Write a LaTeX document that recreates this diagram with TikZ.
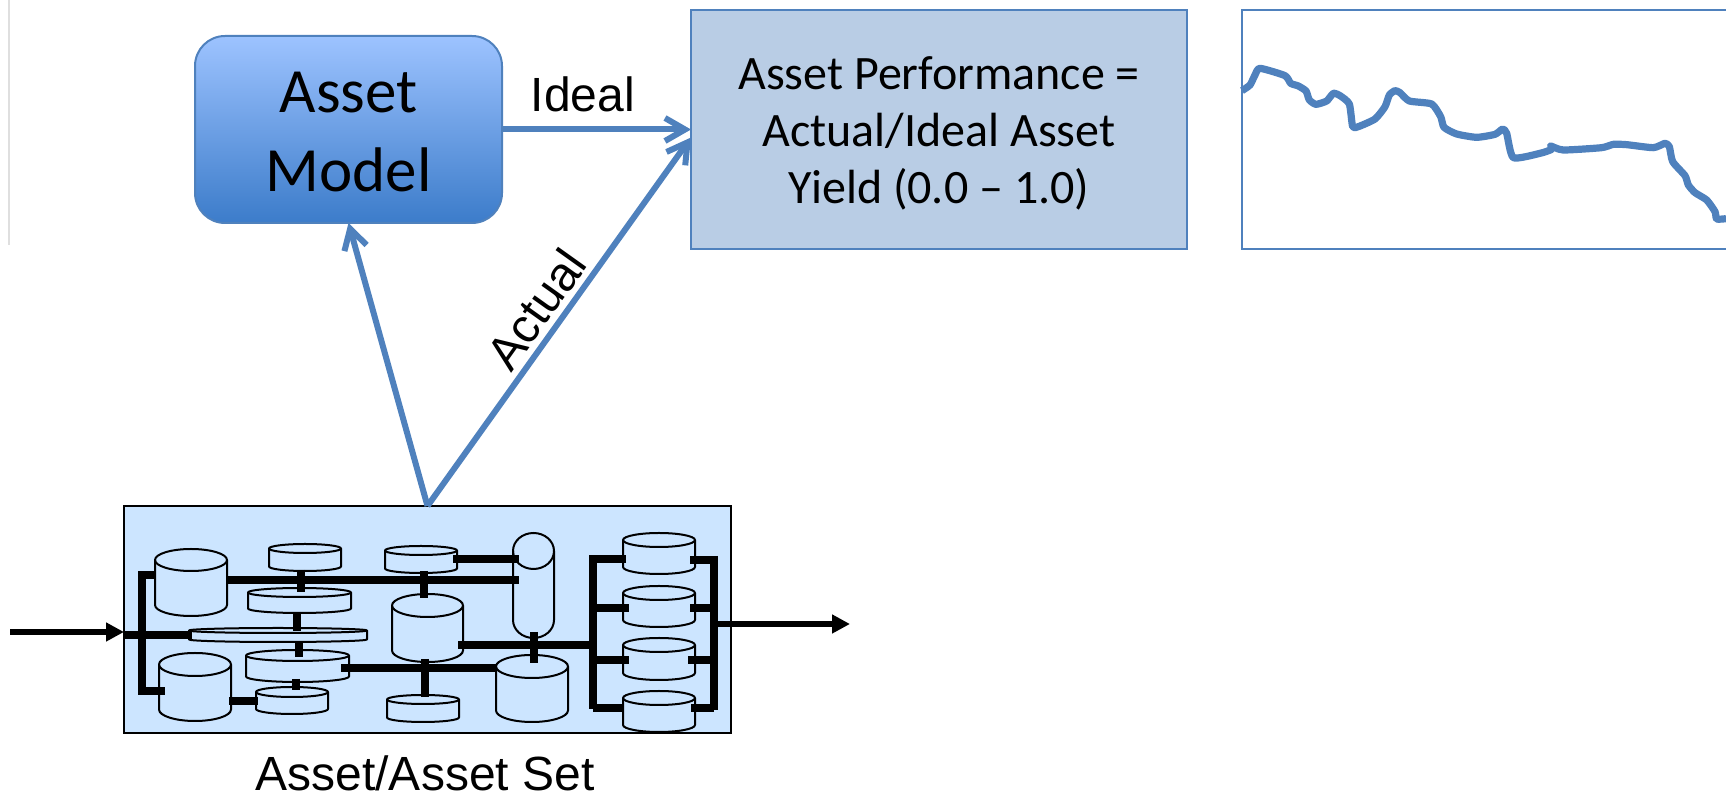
\documentclass[tikz,border=0pt]{standalone}
\usepackage{fontspec}
\setmainfont{Carlito}
\newfontfamily\arialf{Liberation Sans}
\usetikzlibrary{arrows.meta,calc}
\definecolor{linkblue}{HTML}{4F81BD}
\definecolor{perfblue}{HTML}{B9CDE5}
\definecolor{assetblue}{HTML}{CCE5FF}
\definecolor{modeltop}{HTML}{9DC3FF}
\definecolor{modelbot}{HTML}{3C7CCA}
\tikzset{
  linkarrow/.style={draw=linkblue,line width=3pt,-{Straight Barb[length=10pt,width=11.5pt,line width=3pt]}},
  flowarrow/.style={draw=black,line width=3pt,-{Triangle[length=9pt,width=9pt]}},
  pipe/.style={draw=black,line width=4pt},
  vessel/.style={draw=black,line width=1pt,fill=assetblue,line join=round},
  lbl/.style={font=\arialf\fontsize{24}{28}\selectfont,inner sep=0pt},
}
% x1, top of ellipse, x2, bottom of ellipse, bottom of body
\newcommand{\vesselshape}[5]{%
  \pgfmathsetmacro{\vcx}{(#1+#3)/2}%
  \pgfmathsetmacro{\vrx}{(#3-#1)/2}%
  \pgfmathsetmacro{\vry}{(#4-#2)/2}%
  \pgfmathsetmacro{\vcy}{(#4+#2)/2}%
  \pgfmathsetmacro{\vby}{#5-\vry}%
  \pgfmathsetmacro{\vkx}{0.552*\vrx}%
  \pgfmathsetmacro{\vky}{0.552*\vry}%
  \draw[vessel] (#1,\vcy) -- (#1,\vby)
    .. controls (#1,\vby+\vky) and (\vcx-\vkx,#5) .. (\vcx,#5)
    .. controls (\vcx+\vkx,#5) and (#3,\vby+\vky) .. (#3,\vby)
    -- (#3,\vcy)
    .. controls (#3,\vcy-\vky) and (\vcx+\vkx,#2) .. (\vcx,#2)
    .. controls (\vcx-\vkx,#2) and (#1,\vcy-\vky) .. (#1,\vcy) -- cycle;
  \draw[vessel,fill=none] (#1,\vcy)
    .. controls (#1,\vcy+\vky) and (\vcx-\vkx,#4) .. (\vcx,#4)
    .. controls (\vcx+\vkx,#4) and (#3,\vcy+\vky) .. (#3,\vcy);
}
\begin{document}
\begin{tikzpicture}[x=0.5pt,y=-0.5pt]
\useasboundingbox (0,0) rectangle (1726,795);

% Faint edge line at the left of the reference
\draw[gray!25,line width=0.8pt] (9,0) -- (9,245);

% Asset model
\node[rounded corners=15pt,draw=linkblue,line width=1pt,top color=modeltop,bottom color=modelbot,
  minimum width=153.5pt,minimum height=93.5pt,inner sep=0pt,outer sep=0pt] (model) at (348.5,129.5) {};
\node[inner sep=0pt,align=center,font=\fontsize{31.5}{39.5}\selectfont] (modeltext) at (348.5,132) {Asset\\Model};

% Asset performance
\node[draw=linkblue,line width=1pt,fill=perfblue,minimum width=248pt,minimum height=119.5pt,
  inner sep=0pt,outer sep=0pt] (perf) at (939,129.5) {};
\node[inner sep=0pt,align=center,font=\fontsize{24}{28.5}\selectfont] (perftext) at (939,133)
  {Asset Performance =\\Actual/Ideal Asset\\Yield (0.0 -- 1.0)};

% Asset set box
\node[draw=black,line width=0.8pt,fill=assetblue,minimum width=303.5pt,minimum height=113.5pt,
  inner sep=0pt,outer sep=0pt] (asset) at (427.5,619.5) {};

% Vessels
\vesselshape{155}{549}{227}{571}{616}
\vesselshape{269}{544}{341}{553}{571}
\vesselshape{248}{588}{351}{597}{613}
\vesselshape{189}{628}{367}{633}{642}
\vesselshape{246}{650}{349}{661}{682}
\vesselshape{159}{653}{231}{676}{721}
\vesselshape{256}{687}{328}{697}{714}
\vesselshape{385}{546}{457}{555}{573}
\vesselshape{392}{594}{463}{617}{662}
\vesselshape{387}{695}{459}{704}{722}
\vesselshape{513}{533}{554}{569}{638}
\vesselshape{496}{655}{568}{678}{722}
\vesselshape{623}{533}{695}{547}{574}
\vesselshape{623}{586}{695}{600}{627}
\vesselshape{623}{638}{695}{652}{680}
\vesselshape{623}{691}{695}{705}{732}

% Pipes
\draw[pipe] (155,575) -- (142,575) -- (142,695);
\draw[pipe] (140,691) -- (165,691);
\draw[pipe] (asset.west |- 0,635) -- (192,635);
\draw[pipe] (227,580) -- (519,580);
\draw[pipe] (301,570) -- (301,592);
\draw[pipe] (297,612) -- (297,631);
\draw[pipe] (299,643) -- (299,657);
\draw[pipe] (296,679) -- (296,690);
\draw[pipe] (229,701) -- (258,701);
\draw[pipe] (424,571) -- (424,598);
\draw[pipe] (341,668) -- (497,668);
\draw[pipe] (425,659) -- (425,697);
\draw[pipe] (453,559) -- (519,559);
\draw[pipe] (534,632) -- (534,663);
\draw[pipe] (458,645) -- (593,645);
\draw[pipe] (626,559) -- (593,559) -- (593,709);
\draw[pipe] (593,608) -- (629,608);
\draw[pipe] (593,660) -- (629,660);
\draw[pipe] (593,708) -- (623,708);
\draw[pipe] (690,560) -- (714,560);
\draw[pipe] (714,556) -- (714,710);
\draw[pipe] (690,608) -- (714,608);
\draw[pipe] (688,660) -- (714,660);
\draw[pipe] (691,708) -- (714,708);

% Flow arrows
\coordinate (inflow) at (10,632);
\coordinate (inend) at (asset.west |- inflow);
\coordinate (outstart) at (714,624);
\coordinate (outflow) at (850,624);
\draw[flowarrow] (inflow) -- (inend);
\draw[flowarrow] (outstart) -- (outflow);

% Blue connectors
\coordinate (actualend) at ($(perf.west)+(0,8)$);
\draw[linkarrow] (model.east) -- (model.east -| perf.west);
\draw[linkarrow] (asset.north) -- (actualend);
\draw[linkarrow] (asset.north) -- (model.south);

% Labels
\node[lbl] (ideallabel) at (583,94) {Ideal};
\node[lbl,rotate=54.5] (actuallabel) at (536,309) {Actual};
\node[lbl] (assetlabel) at (425,773) {Asset/Asset Set};

% Chart
\draw[linkblue,line width=1.2pt] (1726,10) -- (1242,10) -- (1242,249) -- (1726,249);
\begin{scope}[shift={(1230,0)},x=0.16667pt,y=-0.16667pt]
\draw[linkblue,line width=3.6pt,line join=round] plot[smooth,tension=0.35] coordinates {
(36,272)(60,255)(75,225)(90,205)(165,227)(182,250)(205,258)(228,273)(238,300)(258,313)(290,303)(310,280)(330,287)(358,312)(368,380)(385,380)(435,357)(465,320)(478,285)(495,272)(510,278)(538,303)(605,312)(632,350)(642,382)(680,402)(740,412)(795,403)(818,387)(830,400)(850,473)(930,460)(965,448)(962,438)(1000,450)(1115,443)(1150,433)(1190,434)(1270,443)(1305,430)(1318,440)(1328,485)(1365,527)(1375,555)(1395,578)(1430,600)(1455,635)(1460,657)(1488,656)};
\end{scope}
\end{tikzpicture}
\end{document}
